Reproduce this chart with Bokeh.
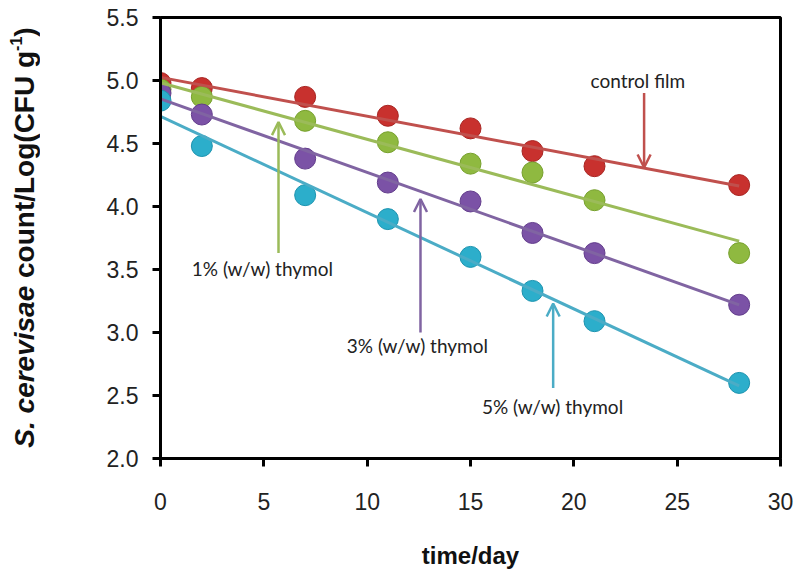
import math
import numpy as np
from bokeh.plotting import figure
from bokeh.layouts import row
from bokeh.models import Range1d, FixedTicker, NumeralTickFormatter, Label, Arrow, OpenHead
from bokeh.embed import file_html
from bokeh.resources import INLINE

# ---------------- data ----------------
days = [0, 2, 7, 11, 15, 18, 21, 28]
control = [4.98, 4.94, 4.87, 4.72, 4.62, 4.44, 4.32, 4.17]
thymol_1 = [4.93, 4.87, 4.68, 4.51, 4.34, 4.27, 4.05, 3.63]
thymol_3 = [4.90, 4.73, 4.38, 4.19, 4.04, 3.79, 3.63, 3.22]
thymol_5 = [4.84, 4.48, 4.09, 3.90, 3.60, 3.33, 3.09, 2.60]
series_names = ["control film", "1% (w/w) thymol", "3% (w/w) thymol", "5% (w/w) thymol"]
x_ticks = [0, 5, 10, 15, 20, 25, 30]
y_ticks = [2.0, 2.5, 3.0, 3.5, 4.0, 4.5, 5.0, 5.5]

series = [control, thymol_1, thymol_3, thymol_5]
dot_colors = ["#C8312E", "#8FB940", "#7B52A6", "#2CAECB"]
rim_colors = ["#A82522", "#76A02C", "#633D8C", "#1C93AF"]
line_colors = ["#C0504D", "#9BBB59", "#8064A2", "#4BACC6"]

FONT = "Liberation Sans"
ANNOT_FONT = "Lato"

X0, X1, Y0, Y1 = 0, 30, 2.0, 5.5
H = 573
TW = 40                      # width of the side strip holding the y-axis title
W = 799 - TW
ML, MR, MT, MB = 120, 19, 17, 115
PX_Y = (H - MT - MB) / (Y1 - Y0)   # pixels per log unit

p = figure(width=W, height=H, x_range=Range1d(X0, X1), y_range=Range1d(Y0, Y1),
           output_backend="svg", toolbar_location=None,
           min_border_left=ML, min_border_right=MR, min_border_top=MT, min_border_bottom=MB)
p.grid.visible = False
p.background_fill_color = "white"
p.border_fill_color = "white"
p.outline_line_color = "black"
p.outline_line_width = 3

for ax in (p.xaxis[0], p.yaxis[0]):
    ax.axis_line_width = 3
    ax.axis_line_color = "black"
    ax.major_tick_line_width = 3
    ax.major_tick_line_color = "black"
    ax.major_tick_out = 8
    ax.major_tick_in = 0
    ax.minor_tick_line_color = None
    ax.major_label_text_font = FONT
    ax.major_label_text_font_size = "23px"
    ax.major_label_text_color = "#222222"

p.xaxis.ticker = FixedTicker(ticks=x_ticks, minor_ticks=[])
p.yaxis.ticker = FixedTicker(ticks=y_ticks, minor_ticks=[])
p.yaxis.formatter = NumeralTickFormatter(format="0.0")
p.xaxis.major_label_standoff = 26
p.yaxis.major_label_standoff = 14

p.xaxis.axis_label = "time/day"
p.xaxis.axis_label_text_font = FONT
p.xaxis.axis_label_text_font_style = "bold"
p.xaxis.axis_label_text_font_size = "24px"
p.xaxis.axis_label_text_color = "#111111"
p.xaxis.axis_label_standoff = 29

# ---------------- points and trend lines ----------------
for vals, dc, rc in zip(series, dot_colors, rim_colors):
    p.scatter(days, vals, size=21, fill_color=dc, line_color=rc, line_width=1)

for vals, lc in zip(series, line_colors):
    slope, intercept = np.polyfit(days, vals, 1)
    xs = [days[0], days[-1]]
    ys = [intercept + slope * x for x in xs]
    p.line(xs, ys, line_color=lc, line_width=3)

# ---------------- arrows and notes ----------------
arrows = [
    (23.4, 4.90, 23.4, 4.31),
    (5.71, 3.63, 5.71, 4.67),
    (12.58, 3.00, 12.58, 4.06),
    (19.0, 2.56, 19.0, 3.23),
]
notes = [(23.1, 5.00), (4.93, 3.51), (12.43, 2.90), (18.97, 2.41)]
for (xa, ya, xb, yb), lc in zip(arrows, line_colors):
    p.add_layout(Arrow(end=OpenHead(size=13, line_color=lc, line_width=2.5),
                       x_start=xa, y_start=ya, x_end=xb, y_end=yb,
                       line_color=lc, line_width=2.5))
for (x, y), name in zip(notes, series_names):
    p.add_layout(Label(x=x, y=y, text=name, text_align="center", text_baseline="middle",
                       text_font=ANNOT_FONT, text_font_size="19px", text_color="#222222"))

# ---------------- y axis title (mixed styles) in a side strip ----------------
t = figure(width=TW, height=H, x_range=Range1d(0, TW), y_range=Range1d(Y0, Y1),
           output_backend="svg", toolbar_location=None,
           x_axis_location=None, y_axis_location=None,
           min_border_left=0, min_border_right=0,
           min_border_top=MT, min_border_bottom=MB)
t.grid.visible = False
t.outline_line_color = None
t.background_fill_color = "white"
t.border_fill_color = "white"

BOLD_W = {" ": 278, "(": 333, ")": 333, "-": 333, ".": 278, "/": 278, "1": 556, "C": 722,
          "F": 611, "L": 611, "S": 667, "U": 722, "a": 556, "c": 556, "e": 556, "g": 611,
          "i": 278, "n": 611, "o": 611, "r": 389, "s": 556, "t": 333, "u": 611, "v": 556}


def text_w(s, size):
    return sum(BOLD_W.get(ch, 556) for ch in s) * size / 1000.0


fs = 28
sup_fs = 16
# (text, font size, style, sideways shift, gap before)
parts = [("S. cerevisae", fs, "bold italic", 0, 0),
         ("count/Log(CFU g", fs, "bold", 0, text_w(" ", fs)),
         ("-1", sup_fs, "bold", -9, 0),
         (")", fs, "bold", 0, 0)]
total = sum(text_w(s_, f_) + g_ for s_, f_, _, _, g_ in parts)
cx = 24                       # px from the left page edge
cy = (H - MB) - 237           # px above the frame bottom
pos = cy - total / 2
for s_, f_, style, dx, gap in parts:
    pos += gap
    t.add_layout(Label(x=cx + dx, y=Y0 + pos / PX_Y, text=s_,
                       angle=math.pi / 2, text_align="left", text_baseline="middle",
                       text_font=FONT, text_font_style=style, text_font_size=f"{f_}px",
                       text_color="#111111"))
    pos += text_w(s_, f_)

layout = row(t, p, spacing=0)
open("out.html", "w").write(file_html(layout, INLINE))
